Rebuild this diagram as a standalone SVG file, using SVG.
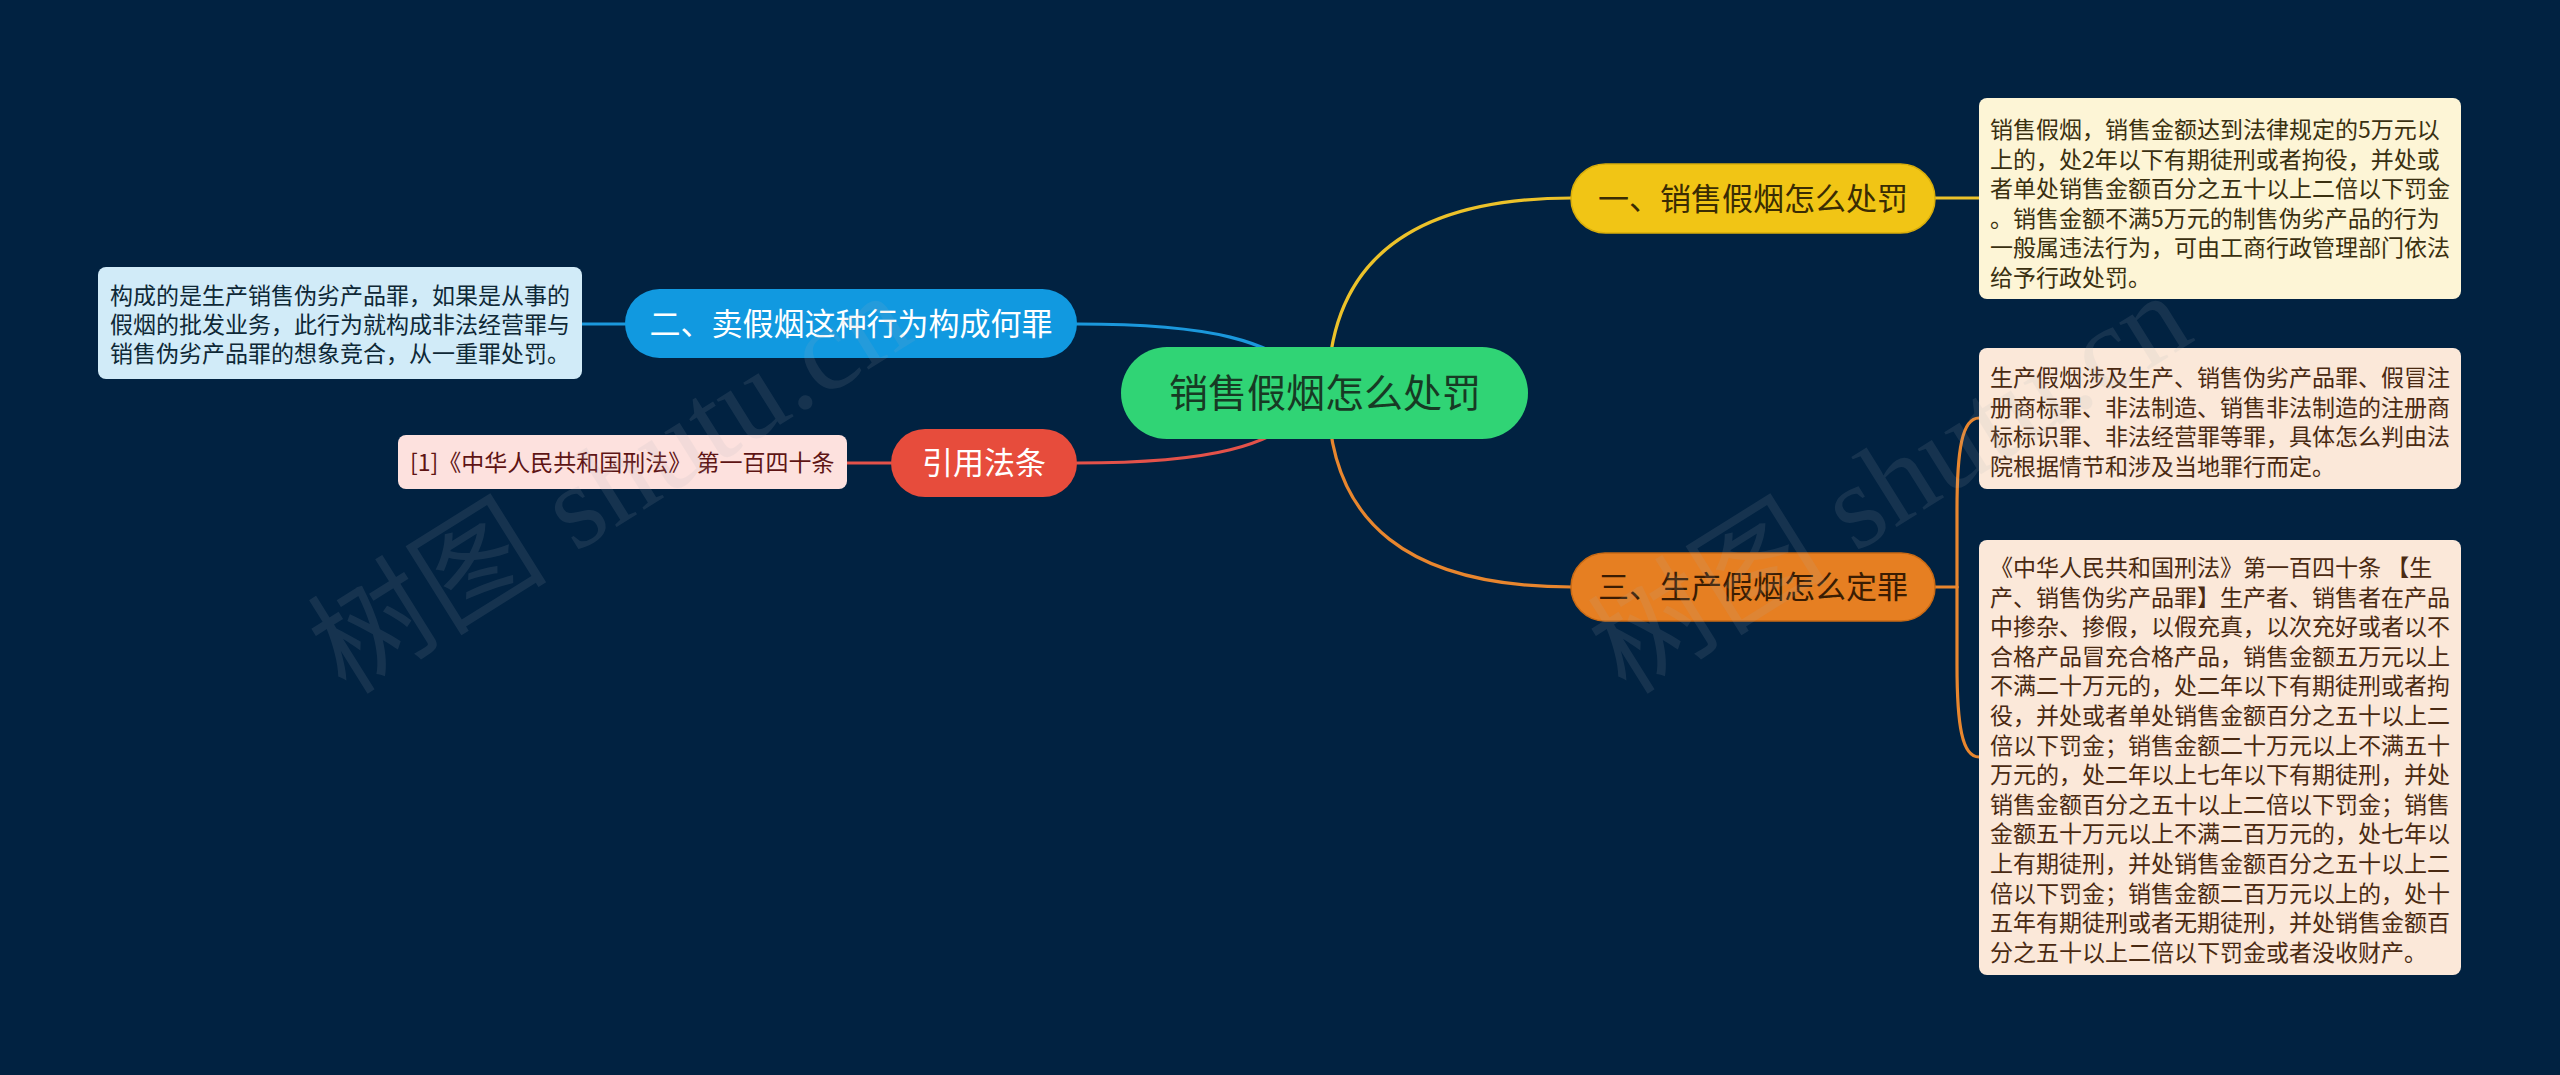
<svg xmlns="http://www.w3.org/2000/svg" width="2560" height="1075" viewBox="0 0 2560 1075">
<style>
.bg{fill:#012241}
.conn path{fill:none;stroke-width:3.2;stroke-linecap:round}
.cy{stroke:#ecc22a}
.cb{stroke:#1b98dc}
.cr{stroke:#e3524a}
.co{stroke:#e8862e}
text{font-family:"Noto Sans CJK SC","Noto Sans",sans-serif;font-weight:400}
.t-main{font-size:39px;fill:#173a24;text-anchor:middle}
.t-node{font-size:31px;text-anchor:middle}
.t-leaf{font-size:23px}
.wm{font-family:"Liberation Serif","Noto Sans CJK SC",serif;font-weight:400;font-size:120px;fill:#a9b0b8;opacity:0.12}
</style>
<rect class="bg" x="0" y="0" width="2560" height="1075"/>
<g id="connectors" class="conn">
<path class="cy" d="M1328,393 C1328,262 1410,198 1572,198"/>
<path class="co" d="M1328,393 C1328,524 1410,587 1572,587"/>
<path class="cb" d="M1325,393 C1280,336 1200,324 1077,324"/>
<path class="cr" d="M1325,393 C1280,451 1200,463 1077,463"/>
<path class="cy" d="M1935,198 L1979,198"/>
<path class="cb" d="M625,324 L582,324"/>
<path class="cr" d="M891,463 L847,463"/>
<path class="co" d="M1935,587 L1957,587"/>
<path class="co" d="M1957,587 L1957,510 C1957,450 1962,418 1979,418"/>
<path class="co" d="M1957,587 L1957,665 C1957,725 1962,757 1979,757"/>
</g>
<g id="node-center">
<rect x="1121" y="347" width="407" height="92" rx="46" fill="#30d475"/>
<text class="t-main" x="1325" y="407">销售假烟怎么处罚</text>
</g>
<g id="node-1">
<rect x="1571" y="164" width="364" height="69" rx="34.5" fill="#f1c515" stroke="#d9ae0a" stroke-width="1.5"/>
<text class="t-node" x="1753" y="210" fill="#3a2c03">一、销售假烟怎么处罚</text>
</g>
<g id="node-2">
<rect x="625" y="289" width="452" height="69" rx="34.5" fill="#1199e0"/>
<text class="t-node" x="851" y="335" fill="#ffffff">二、卖假烟这种行为构成何罪</text>
</g>
<g id="node-ref">
<rect x="891" y="429" width="186" height="68" rx="34" fill="#e74c3c"/>
<text class="t-node" x="984" y="474" fill="#ffffff">引用法条</text>
</g>
<g id="node-3">
<rect x="1571" y="553" width="364" height="68" rx="34" fill="#e67f22" stroke="#c96a14" stroke-width="1.5"/>
<text class="t-node" x="1753" y="598" fill="#3a1c02">三、生产假烟怎么定罪</text>
</g>
<g id="leaf-1">
<rect x="1979" y="98" width="482" height="201" rx="8" fill="#fdf5d6"/>
<text class="t-leaf" fill="#3a3010">
<tspan x="1990" y="138">销售假烟，销售金额达到法律规定的5万元以</tspan>
<tspan x="1990" y="167.5">上的，处2年以下有期徒刑或者拘役，并处或</tspan>
<tspan x="1990" y="197">者单处销售金额百分之五十以上二倍以下罚金</tspan>
<tspan x="1990" y="226.5">。销售金额不满5万元的制售伪劣产品的行为</tspan>
<tspan x="1990" y="256">一般属违法行为，可由工商行政管理部门依法</tspan>
<tspan x="1990" y="285.5">给予行政处罚。</tspan>
</text>
</g>
<g id="leaf-3a">
<rect x="1979" y="348" width="482" height="141" rx="8" fill="#fbe8d9"/>
<text class="t-leaf" fill="#4a2a12">
<tspan x="1990" y="386">生产假烟涉及生产、销售伪劣产品罪、假冒注</tspan>
<tspan x="1990" y="415.5">册商标罪、非法制造、销售非法制造的注册商</tspan>
<tspan x="1990" y="445">标标识罪、非法经营罪等罪，具体怎么判由法</tspan>
<tspan x="1990" y="474.5">院根据情节和涉及当地罪行而定。</tspan>
</text>
</g>
<g id="leaf-3b">
<rect x="1979" y="540" width="482" height="435" rx="8" fill="#fbe8d9"/>
<text class="t-leaf" fill="#4a2a12">
<tspan x="1990" y="576">《中华人民共和国刑法》第一百四十条 【生</tspan>
<tspan x="1990" y="605.6">产、销售伪劣产品罪】生产者、销售者在产品</tspan>
<tspan x="1990" y="635.2">中掺杂、掺假，以假充真，以次充好或者以不</tspan>
<tspan x="1990" y="664.8">合格产品冒充合格产品，销售金额五万元以上</tspan>
<tspan x="1990" y="694.4">不满二十万元的，处二年以下有期徒刑或者拘</tspan>
<tspan x="1990" y="724">役，并处或者单处销售金额百分之五十以上二</tspan>
<tspan x="1990" y="753.6">倍以下罚金；销售金额二十万元以上不满五十</tspan>
<tspan x="1990" y="783.2">万元的，处二年以上七年以下有期徒刑，并处</tspan>
<tspan x="1990" y="812.8">销售金额百分之五十以上二倍以下罚金；销售</tspan>
<tspan x="1990" y="842.4">金额五十万元以上不满二百万元的，处七年以</tspan>
<tspan x="1990" y="872">上有期徒刑，并处销售金额百分之五十以上二</tspan>
<tspan x="1990" y="901.6">倍以下罚金；销售金额二百万元以上的，处十</tspan>
<tspan x="1990" y="931.2">五年有期徒刑或者无期徒刑，并处销售金额百</tspan>
<tspan x="1990" y="960.8">分之五十以上二倍以下罚金或者没收财产。</tspan>
</text>
</g>
<g id="leaf-2">
<rect x="98" y="267" width="484" height="112" rx="8" fill="#d1ebf8"/>
<text class="t-leaf" fill="#0e2836">
<tspan x="110" y="304">构成的是生产销售伪劣产品罪，如果是从事的</tspan>
<tspan x="110" y="333">假烟的批发业务，此行为就构成非法经营罪与</tspan>
<tspan x="110" y="362">销售伪劣产品罪的想象竞合，从一重罪处罚。</tspan>
</text>
</g>
<g id="leaf-ref">
<rect x="398" y="435" width="449" height="54" rx="8" fill="#fde1de"/>
<text class="t-leaf" x="410" y="471" fill="#5e1414">[1]《中华人民共和国刑法》 第一百四十条</text>
</g>
<g id="watermark">
<text class="wm" transform="translate(346,696) rotate(-32)">树图 shutu.cn</text>
<text class="wm" transform="translate(1626,696) rotate(-32)">树图 shutu.cn</text>
</g>
</svg>
